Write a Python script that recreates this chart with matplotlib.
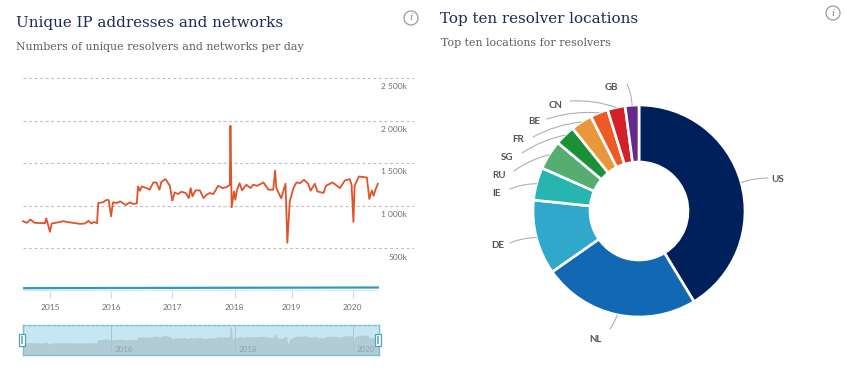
import numpy as np
import matplotlib
matplotlib.use('Agg')
import matplotlib.pyplot as plt
from matplotlib.patches import Rectangle, Circle

years = [2014.56, 2014.62, 2014.68, 2014.75, 2014.92, 2014.94, 2015.0, 2015.03, 2015.14, 2015.22,
         2015.30, 2015.38, 2015.49, 2015.57, 2015.63, 2015.68, 2015.72, 2015.77, 2015.79, 2015.87,
         2015.92, 2015.96, 2016.0, 2016.03, 2016.09, 2016.15, 2016.24, 2016.31, 2016.36, 2016.42,
         2016.44, 2016.47, 2016.50, 2016.58, 2016.63, 2016.69, 2016.74, 2016.79, 2016.82, 2016.89,
         2016.96, 2017.0, 2017.04, 2017.09, 2017.15, 2017.22, 2017.27, 2017.30, 2017.33, 2017.38,
         2017.45, 2017.51, 2017.56, 2017.61, 2017.67, 2017.75, 2017.82, 2017.89, 2017.94, 2017.95,
         2017.97, 2018.01, 2018.03, 2018.06, 2018.10, 2018.14, 2018.21, 2018.28, 2018.32, 2018.39,
         2018.49, 2018.57, 2018.65, 2018.68, 2018.70, 2018.78, 2018.85, 2018.88, 2018.92, 2018.98,
         2019.03, 2019.09, 2019.15, 2019.22, 2019.26, 2019.33, 2019.37, 2019.47, 2019.51, 2019.62,
         2019.74, 2019.82, 2019.90, 2019.93, 2019.96, 2019.98, 2020.05, 2020.18, 2020.22, 2020.26,
         2020.29, 2020.32, 2020.36]
resolvers = [819, 800, 838, 800, 796, 854, 695, 792, 807, 819,
             807, 800, 788, 792, 823, 792, 811, 796, 1033, 1041,
             1068, 1068, 877, 1041, 1033, 1052, 1010, 1041, 1021, 1029,
             1227, 1177, 1227, 1208, 1189, 1274, 1274, 1189, 1278, 1313,
             1235, 1060, 1157, 1138, 1165, 1150, 1091, 1208, 1111, 1181,
             1181, 1091, 1130, 1150, 1138, 1235, 1208, 1220, 1247, 1939,
             982, 1169, 1072, 1189, 1266, 1181, 1247, 1208, 1247, 1235,
             1274, 1189, 1189, 1414, 1208, 1087, 1259, 566, 1052, 1208,
             1274, 1266, 1305, 1259, 1177, 1259, 1169, 1150, 1235, 1274,
             1208, 1297, 1313, 1247, 811, 1235, 1344, 1332, 1080, 1181,
             1118, 1189, 1259]
net_years = [2014.56, 2016.0, 2018.0, 2020.36]
networks = [33, 35, 38, 41]

year_ticks = [2015, 2016, 2017, 2018.02, 2018.95, 2019.95]
year_labels = ['2015', '2016', '2017', '2018', '2019', '2020']
nav_ticks = [2016, 2018.02, 2019.95]
nav_labels = ['2016', '2018', '2020']
y_ticks = [500, 1000, 1500, 2000, 2500]
y_labels = ['500k', '1 000k', '1 500k', '2 000k', '2 500k']

countries = ['US', 'NL', 'DE', 'IE', 'RU', 'SG', 'FR', 'BE', 'CN', 'GB']
shares = [41.4, 24.0, 11.4, 5.0, 4.5, 3.1, 3.3, 2.7, 2.7, 2.1]
colors = ['#00205b', '#1268b3', '#2fa8cc', '#26b5b0', '#55ad72', '#1b9037', '#e8983a', '#ee5a24', '#d42027', '#642b8c']
label_pos = [(778, 180), (595, 339), (498, 245), (497, 193), (499, 175), (507, 158), (518, 140), (534, 122), (556, 105), (611, 87)]
line_start = [(768, 178), (610, 329), (510, 243), (510, 189), (514, 171), (522, 153), (533, 137), (547, 119), (570, 101), (627, 84)]

W, H = 850, 372
plt.rcParams['font.family'] = ['Lato', 'DejaVu Sans']
fig = plt.figure(figsize=(W / 100, H / 100), dpi=100)


def px_axes(x0, y0, x1, y1):
    # axes from a pixel box, y counted from the top
    return fig.add_axes([x0 / W, 1 - y1 / H, (x1 - x0) / W, (y1 - y0) / H])


page = fig.add_axes([0, 0, 1, 1])
page.set_xlim(0, W)
page.set_ylim(H, 0)
page.axis('off')

navy = '#1b2a58'
grey = '#5f5f5f'
page.text(16, 23, 'Unique IP addresses and networks', family='DejaVu Serif', fontsize=10.9, color=navy, va='center')
page.text(16, 47, 'Numbers of unique resolvers and networks per day', family='DejaVu Serif', fontsize=7.9, color=grey, va='center')
page.text(440, 19, 'Top ten resolver locations', family='DejaVu Serif', fontsize=10.9, color=navy, va='center')
page.text(441, 43, 'Top ten locations for resolvers', family='DejaVu Serif', fontsize=7.9, color=grey, va='center')
for cx, cy in [(411, 18), (833, 13)]:
    page.add_patch(Circle((cx, cy), 7, fill=False, ec='#9a9a9a', lw=0.9))
    page.text(cx, cy, 'i', family='DejaVu Serif', style='italic', fontsize=7.5, color='#8a8a8a', ha='center', va='center')

# main line chart
ax = px_axes(23, 78, 414, 291)
ax.set_xlim(2014.56, 2020.95)
ax.set_ylim(0, 2500)
ax.patch.set_alpha(0)
for s in ax.spines.values():
    s.set_visible(False)
ax.set_yticks(y_ticks)
ax.tick_params(axis='y', length=0, labelleft=False)
ax.grid(axis='y', color='#bdbdbd', linestyle=(0, (2.5, 2.5)), linewidth=0.8)
ax.set_xticks(year_ticks, year_labels)
ax.tick_params(axis='x', length=5, width=0.8, color='#cfd8de', labelsize=6, labelcolor='#707070', pad=4.5)
ax.hlines(0, years[0], years[-1], color='#cfe3ea', lw=1.2)
ax.plot(years, resolvers, color='#e0532a', lw=1.3, clip_on=False)
ax.plot(net_years, networks, color='#2a9dbb', lw=1.6)
for v, lab in zip(y_ticks, y_labels):
    ax.annotate(lab, (1, v), xycoords=ax.get_yaxis_transform(), xytext=(-5, -3.8), textcoords='offset points',
                ha='right', va='top', fontsize=6, color='#707070')

# navigator under the chart
nav = px_axes(23, 325, 379, 355)
nav.set_xlim(2014.56, 2020.37)
nav.set_ylim(0, 2100)
nav.set_facecolor('#c6e6f2')
nav.fill_between(years, resolvers, color='#b2ccd5')
nav.set_xticks([])
nav.set_yticks([])
for s in nav.spines.values():
    s.set_color('#7dbfcf')
    s.set_linewidth(1)
nav.spines['top'].set_linestyle((0, (2, 1.5)))
nav.vlines(nav_ticks, 0, 2100, color='#a6c6d2', lw=0.7)
for t, lab in zip(nav_ticks, nav_labels):
    nav.text(t + 0.06, 380, lab, fontsize=5.8, color='#8ca5af', va='center')
for hx in [22, 378]:
    page.add_patch(Rectangle((hx - 3, 334), 6, 12, fc='white', ec='#4ba6bd', lw=0.9, zorder=5))
    page.plot([hx, hx], [337, 343], color='#7fb4c4', lw=1.4, zorder=6)
page.set_zorder(3)

# donut
pie = px_axes(533, 105, 745, 317)
wedges, _ = pie.pie(shares, colors=colors, startangle=90, counterclock=False, radius=1,
                    wedgeprops=dict(width=1 - 49 / 106, edgecolor='white', linewidth=1.9))
pie.set_xlim(-1, 1)
pie.set_ylim(-1, 1)
for i, w in enumerate(wedges):
    mid = np.deg2rad((w.theta1 + w.theta2) / 2)
    rad = -0.1 if i >= 2 else 0.08
    pie.annotate('', xy=(np.cos(mid), np.sin(mid)), xytext=line_start[i], textcoords=page.transData,
                 arrowprops=dict(arrowstyle='-', color='#b0b0b0', lw=0.8, shrinkA=0, shrinkB=0,
                                 connectionstyle=f'arc3,rad={rad}'), annotation_clip=False)
    page.text(label_pos[i][0], label_pos[i][1], countries[i], fontsize=7, fontweight='bold', color='#555555',
              ha='center', va='center')

fig.savefig('out.png', dpi=100)
